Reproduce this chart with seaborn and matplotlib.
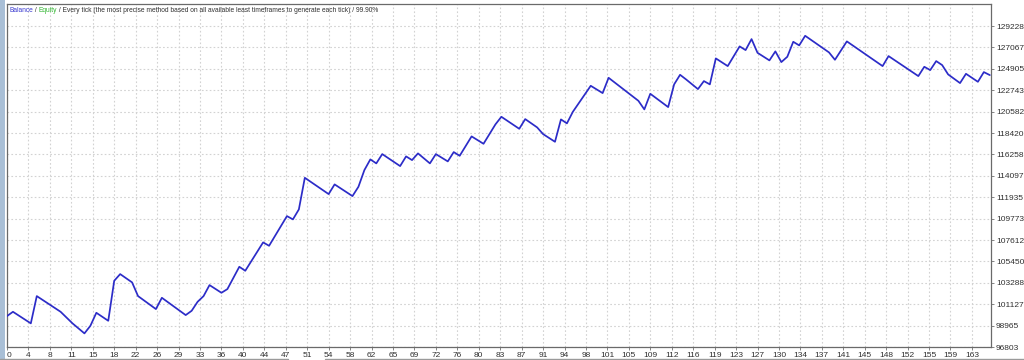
import numpy as np
import pandas as pd
import matplotlib
matplotlib.use("Agg")
import matplotlib.pyplot as plt
import seaborn as sns
from matplotlib import font_manager as fm
from matplotlib.patches import Rectangle
from matplotlib.lines import Line2D

# ---- data (balance curve vertices) ----
trade_no = [0, 1, 4, 5, 9, 11, 13, 14, 15, 17, 18, 19, 21, 22, 25, 26, 30, 31, 32, 33,
            34, 36, 37, 39, 40, 43, 44, 47, 48, 49, 50, 54, 55, 58, 59, 60, 61, 62, 63, 66,
            67, 68, 69, 71, 72, 74, 75, 76, 78, 80, 82, 83, 86, 87, 89, 90, 92, 93, 94, 95,
            98, 100, 101, 106, 107, 108, 111, 112, 113, 114, 116, 117, 118, 119, 121, 123, 124, 125, 126, 128,
            129, 130, 131, 132, 133, 134, 138, 139, 141, 147, 148, 153, 154, 155, 156, 157, 158, 160, 161, 163,
            164, 165]
balance = [99926, 100361, 99189, 101947, 100361, 99189, 98178, 98946, 100260, 99451,
           103493, 104170, 103331, 101947, 100634, 101776, 100027, 100462, 101371, 101947,
           103059, 102281, 102654, 104908, 104504, 107373, 107030, 110030, 109697, 110707,
           113900, 112253, 113233, 112051, 112991, 114678, 115759, 115355, 116295, 115082,
           116062, 115689, 116366, 115355, 116295, 115557, 116497, 116123, 118083, 117336,
           119296, 120064, 118851, 119831, 118993, 118316, 117538, 119801, 119397, 120569,
           123196, 122458, 124004, 121680, 120811, 122388, 121044, 123337, 124307, 123843,
           122862, 123671, 123337, 125964, 125186, 127177, 126803, 127914, 126530, 125762,
           126672, 125591, 126126, 127642, 127278, 128248, 126571, 125823, 127682, 125186,
           126197, 124176, 125116, 124782, 125692, 125287, 124348, 123469, 124408, 123600,
           124580, 124277]

y_tick_values = [96803, 98965, 101127, 103288, 105450, 107612, 109773, 111935, 114097,
                 116258, 118420, 120582, 122743, 124905, 127067, 129228]
x_tick_labels = ["0", "4", "8", "11", "15", "18", "22", "26", "29", "33", "36", "40", "44",
                 "47", "51", "54", "58", "62", "65", "69", "72", "76", "80", "83", "87", "91",
                 "94", "98", "101", "105", "109", "112", "116", "119", "123", "127", "130",
                 "134", "137", "141", "145", "148", "152", "155", "159", "163"]
title_parts = [("Balance", "#3a3ad0"), (" / ", "#303030"), ("Equity", "#2fb52f"),
               (" / Every tick (the most precise method based on all available least "
                "timeframes to generate each tick) / 99.90%", "#303030")]

df = pd.DataFrame({"trade": trade_no, "balance": balance})

sns.set_theme(style="white")


def have(name):
    try:
        fm.findfont(name, fallback_to_default=False)
        return True
    except Exception:
        return False


narrow = "Liberation Sans Narrow" if have("Liberation Sans Narrow") else "Liberation Sans"
plt.rcParams["font.family"] = ["Liberation Sans", "DejaVu Sans"]

W, H = 1024, 360
fig = plt.figure(figsize=(W / 100, H / 100), dpi=100)
fig.patch.set_facecolor("white")
ax = fig.add_axes([7 / W, 1 - 347 / H, (991 - 7) / W, (347 - 4) / H])
ax.set_facecolor("white")

# window chrome: strip at far left and thin separator at the very bottom
fig.patches.append(Rectangle((0, 0), 5 / W, 1, transform=fig.transFigure,
                             facecolor="#a9bfd6", edgecolor="none", zorder=0))
for x0, x1 in [(0, 288 / W), (325 / W, 1)]:
    fig.lines.append(Line2D([x0, x1], [1.2 / H, 1.2 / H], transform=fig.transFigure,
                            color="#9a9a9a", linewidth=1.0))

sns.lineplot(data=df, x="trade", y="balance", ax=ax, color="#2c2cc8",
             linewidth=1.25, estimator=None, sort=False, zorder=3)

grid_step = 3.6
ax.set_xlim(0, 165.2)
ax.set_ylim(96803, 131460)
ax.set_xticks(np.arange(len(x_tick_labels)) * grid_step)
ax.set_xticklabels(x_tick_labels)
ax.yaxis.tick_right()
ax.set_yticks(y_tick_values)
ax.set_yticklabels([str(v) for v in y_tick_values])
ax.set_xlabel("")
ax.set_ylabel("")

ax.grid(True, color="#d2d2d2", linestyle=(0, (1.5, 2)), linewidth=0.8)
ax.tick_params(axis="x", length=2, width=0.6, color="#707070", pad=1.5,
               labelsize=6, labelcolor="#303030", bottom=True)
ax.tick_params(axis="y", length=2, width=0.6, color="#707070", pad=1.5,
               labelsize=6, labelcolor="#303030", right=True, left=False)
ax.get_xticklabels()[0].set_horizontalalignment("left")

for s in ax.spines.values():
    s.set_visible(True)
    s.set_color("#6a6a6a")
    s.set_linewidth(0.9)

title_font = [narrow, "DejaVu Sans"]
title_size = 4.8 if narrow == "Liberation Sans" else 5.8
prev = None
for txt, col in title_parts:
    if prev is None:
        prev = ax.annotate(txt, xy=(0, 1), xycoords="axes fraction", xytext=(2, -3),
                           textcoords="offset pixels", ha="left", va="top",
                           fontsize=title_size, color=col, family=title_font)
    else:
        prev = ax.annotate(txt, xy=(1, 0), xycoords=prev, ha="left", va="bottom",
                           fontsize=title_size, color=col, family=title_font)

fig.savefig("out.png", dpi=100, facecolor="white")
